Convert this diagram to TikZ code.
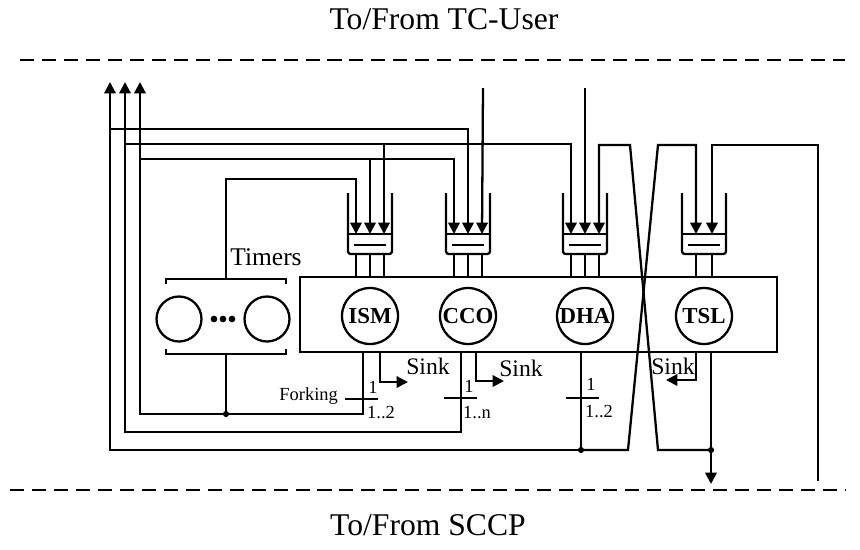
\documentclass[tikz,border=0pt]{standalone}
\usepackage{fontspec}
\setmainfont{Liberation Serif}
\usetikzlibrary{arrows.meta}
\tikzset{
    wire/.style={line width=1.3pt},
    feed/.style={wire, -{Triangle[length=6.5pt, width=6.5pt]}},
    proc/.style={circle, draw, line width=1.3pt, minimum size=1.12cm, inner sep=0pt, font=\fontsize{13}{15}\selectfont\bfseries},
    timer/.style={circle, draw, line width=1.3pt, minimum size=0.9cm, inner sep=0pt},
    boundary/.style={line width=1.4pt, dash pattern=on 8pt off 4.5pt},
    tick label/.style={font=\fontsize{10.5}{12}\selectfont, inner sep=1pt},
    sink label/.style={font=\fontsize{13.5}{16}\selectfont, inner sep=1pt},
    junction/.style={circle, fill, inner sep=0pt, minimum size=3.5pt}
}
\begin{document}
\begin{tikzpicture}[x=0.02cm, y=-0.02cm]
    \useasboundingbox (0,0) rectangle (860,549);

    % boundaries
    \node[font=\fontsize{18}{22}\selectfont] (tcuser) at (444,19) {To/From TC-User};
    \node[font=\fontsize{18}{22}\selectfont] (sccp) at (428,525) {To/From SCCP};
    \draw[boundary] (20,60) -- (845,60);
    \draw[boundary] (10,490) -- (845,490);

    % main block and processes
    \node[draw, line width=1.3pt, minimum width=9.54cm, minimum height=1.5cm, inner sep=0pt] (block) at (538.5,314.5) {};
    \node[proc] (ism) at (370,316) {ISM};
    \node[proc] (cco) at (468,316) {CCO};
    \node[proc] (dha) at (585,316) {DHA};
    \node[proc] (tsl) at (704,316) {TSL};

    % input queues
    \foreach \c in {370,468,585,704} {
        \draw[wire, rounded corners=1.5pt] (\c-22,193) -- (\c-22,254) -- (\c+22,254) -- (\c+22,193);
        \draw[wire] (\c-22,234) -- (\c+22,234);
        \draw[wire] (\c-16,245) -- (\c+16,245);
    }
    \foreach \q/\c in {ismq/370, ccoq/468, dhaq/585} {
        \coordinate (\q1) at (\c-14,234);
        \coordinate (\q2) at (\c,234);
        \coordinate (\q3) at (\c+14,234);
        \foreach \dx in {-14,0,14} \draw[wire] (\c+\dx,254) -- (\c+\dx,277);
    }
    \coordinate (tslq1) at (696,234);
    \coordinate (tslq2) at (712,234);
    \foreach \x in {696,712} \draw[wire] (\x,254) -- (\x,277);

    % timers
    \node[timer] (tmr1) at (179,319) {};
    \node[timer] (tmr2) at (267,319) {};
    \foreach \x in {214,223,232} \fill (\x,319) circle (1.9pt);
    \draw[wire] (166,284) -- (166,279) -- (286,279) -- (286,284);
    \draw[wire] (166,349) -- (166,354) -- (286,354) -- (286,349);
    \coordinate (tmrtop) at (226,279);
    \coordinate (tmrbot) at (226,354);
    \node[font=\fontsize{14.5}{17}\selectfont] (tmrlabel) at (266,257) {Timers};

    % ends at the two boundaries
    \coordinate (up1) at (110,82);
    \coordinate (up2) at (125,82);
    \coordinate (up3) at (140,82);
    \coordinate (dn1) at (483,88);
    \coordinate (dn2) at (585,88);
    \coordinate (down) at (711,484);
    \coordinate (inp) at (818,481);

    % block outputs
    \coordinate (ismout) at (363,352);
    \coordinate (ccoout) at (461,352);
    \coordinate (dhaout) at (581,352);
    \coordinate (tslout) at (711,352);

    % wiring
    \draw[feed] (ismout) |- (140,414) -- (up3);
    \draw[feed] (140,159) -| (ccoq1);
    \draw[feed] (370,159) -- (ismq2);
    \draw[feed] (ccoout) |- (125,432) -- (up2);
    \draw[feed] (125,144) -| (dhaq1);
    \draw[feed] (384,144) -- (ismq3);
    \draw[feed] (dhaout) |- (110,450) -- (up1);
    \draw[feed] (110,129) -| (ccoq2);
    \draw[feed] (581,450) -- (628,450) -- (658,145) -| (tslq1);
    \draw[feed] (tslout) -- (down);
    \draw[feed] (711,450) -- (658,450) -- (630,145) -| (dhaq3);
    \draw[feed] (dn1) -- (ccoq3);
    \draw[feed] (dn2) -- (dhaq2);
    \draw[feed] (inp) |- (712,145) -- (tslq2);
    \draw[feed] (tmrtop) |- (356,179) -- (ismq1);
    \draw[wire] (226,414) -- (tmrbot);
    \node[junction] (jtmr) at (226,414) {};
    \node[junction] (jdha) at (581,450) {};
    \node[junction] (jtsl) at (711,450) {};

    % sinks
    \draw[feed] (380,352) |- (408,382);
    \node[sink label] (sink1) at (428,366) {Sink};
    \draw[feed] (476,352) |- (504,381);
    \node[sink label] (sink2) at (521,368) {Sink};
    \draw[feed] (696,352) |- (666,380);
    \node[sink label] (sink3) at (673,366) {Sink};

    % multiplicities
    \draw[wire] (345,399) -- (378,399);
    \node[tick label] (m1a) at (373,387) {1};
    \node[tick label] (m1b) at (381,413) {1..2};
    \node[tick label, anchor=east] (forking) at (340,396) {Forking};
    \draw[wire] (444,398) -- (477,398);
    \node[tick label] (m2a) at (469,386) {1};
    \node[tick label] (m2b) at (477,413) {1..n};
    \draw[wire] (566,398) -- (599,398);
    \node[tick label] (m3a) at (591,384) {1};
    \node[tick label] (m3b) at (599,412) {1..2};
\end{tikzpicture}
\end{document}
